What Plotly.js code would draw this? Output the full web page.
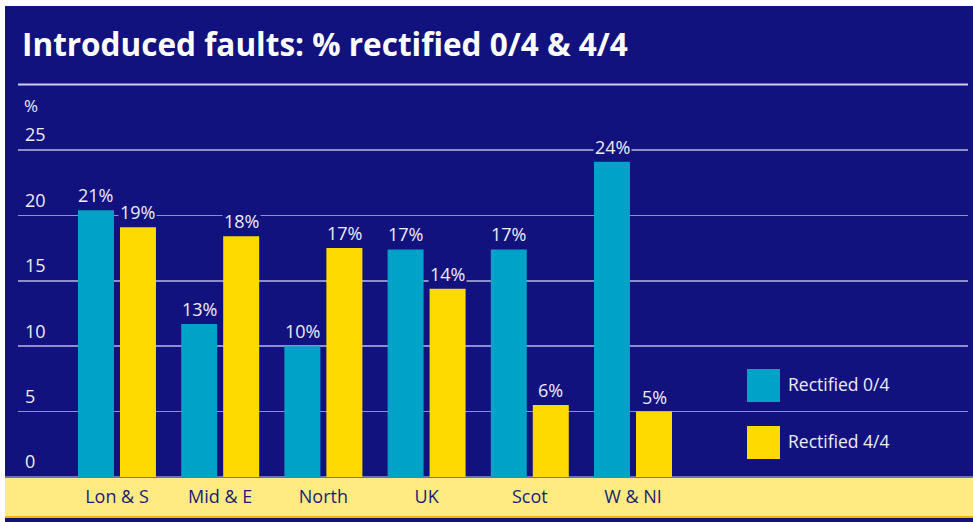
<!DOCTYPE html>
<html>
<head>
<meta charset="utf-8">
<script src="https://cdn.plot.ly/plotly-3.0.1.min.js"></script>
<style>
  html, body { margin: 0; padding: 0; background: #ffffff; }
  #chart { width: 973px; height: 522px; }
</style>
</head>
<body>
<div id="chart"></div>
<script>
// ---- data ----
var categories = ["Lon & S", "Mid & E", "North", "UK", "Scot", "W & NI"];
var seriesNames = ["Rectified 0/4", "Rectified 4/4"];
var rectified04 = [20.4, 11.7, 10.0, 17.4, 17.4, 24.1];
var rectified44 = [19.1, 18.4, 17.5, 14.4, 5.5, 5.0];
var labels04 = ["21%", "13%", "10%", "17%", "17%", "24%"];
var labels44 = ["19%", "18%", "17%", "14%", "6%", "5%"];
var yTickVals = [0, 5, 10, 15, 20, 25];
var titleText = "Introduced faults: % rectified 0/4 & 4/4";
var yUnit = "%";

// ---- styling ----
var NAVY = "#12127f";
var TEAL = "#00a2c7";
var YELLOW = "#ffda00";
var BAND = "#ffeb82";
var ORANGE = "#f2b400";
var GRID = "#8e8ecc";
var TEXT = "#ececf6";
var FONT = "Open Sans, Noto Sans, sans-serif";

var W = 973, H = 522;
var M = {l: 18, r: 5, t: 95, b: 45};
var PW = W - M.l - M.r, PH = H - M.t - M.b;
function px(x) { return (x - M.l) / PW; }
function py(y) { return (H - M.b - y) / PH; }

var traces = [
  {type: "bar", name: seriesNames[0], x: categories, y: rectified04,
   marker: {color: TEAL, line: {width: 0}}, showlegend: false, hoverinfo: "x+y"},
  {type: "bar", name: seriesNames[1], x: categories, y: rectified44,
   marker: {color: YELLOW, line: {width: 0}}, showlegend: false, hoverinfo: "x+y"}
];

var annotations = [];
categories.forEach(function (c, i) {
  annotations.push({x: c, y: rectified04[i], xref: "x", yref: "y", text: labels04[i],
    showarrow: false, yanchor: "bottom", xanchor: "center", xshift: -21, yshift: 1,
    bgcolor: NAVY, borderpad: 1, font: {family: FONT, size: 18, color: TEXT}});
  annotations.push({x: c, y: rectified44[i], xref: "x", yref: "y", text: labels44[i],
    showarrow: false, yanchor: "bottom", xanchor: "center", xshift: 21, yshift: 1,
    bgcolor: NAVY, borderpad: 1, font: {family: FONT, size: 18, color: TEXT}});
});
// unit label
annotations.push({xref: "paper", yref: "paper", x: px(22), y: py(106), text: yUnit,
  showarrow: false, xanchor: "left", yanchor: "middle",
  font: {family: FONT, size: 17, color: TEXT}});
// legend text
annotations.push({xref: "paper", yref: "paper", x: px(786), y: py(384), text: seriesNames[0],
  showarrow: false, xanchor: "left", yanchor: "middle",
  font: {family: FONT, size: 17.5, color: TEXT}});
annotations.push({xref: "paper", yref: "paper", x: px(786), y: py(441), text: seriesNames[1],
  showarrow: false, xanchor: "left", yanchor: "middle",
  font: {family: FONT, size: 17.5, color: TEXT}});

var shapes = [
  // white outer strips
  {type: "rect", xref: "paper", yref: "paper", x0: px(0), x1: px(W), y0: py(0), y1: py(6),
   fillcolor: "#ffffff", line: {width: 0}, layer: "below"},
  {type: "rect", xref: "paper", yref: "paper", x0: px(0), x1: px(5), y0: py(0), y1: py(H),
   fillcolor: "#ffffff", line: {width: 0}, layer: "below"},
  // title rule
  {type: "line", xref: "paper", yref: "paper", x0: px(18), x1: px(968), y0: py(84.5), y1: py(84.5),
   line: {color: "#d0d0ec", width: 2}},
  // bottom band
  {type: "rect", xref: "paper", yref: "paper", x0: px(5), x1: px(W), y0: py(478), y1: py(516),
   fillcolor: BAND, line: {width: 0}, layer: "below"},
  {type: "rect", xref: "paper", yref: "paper", x0: px(5), x1: px(W), y0: py(516), y1: py(518),
   fillcolor: ORANGE, line: {width: 0}, layer: "below"},
  // baseline
  {type: "line", xref: "paper", yref: "paper", x0: px(5), x1: px(W), y0: py(477), y1: py(477),
   line: {color: GRID, width: 1.5}, layer: "below"},
  // legend swatches
  {type: "rect", xref: "paper", yref: "paper", x0: px(747), x1: px(780), y0: py(402), y1: py(369),
   fillcolor: TEAL, line: {width: 0}},
  {type: "rect", xref: "paper", yref: "paper", x0: px(747), x1: px(780), y0: py(459), y1: py(426),
   fillcolor: YELLOW, line: {width: 0}}
];

var layout = {
  width: W, height: H,
  margin: M,
  paper_bgcolor: NAVY,
  plot_bgcolor: NAVY,
  title: {text: "<b>" + titleText + "</b>", xref: "container", yref: "container",
    x: 22 / W, xanchor: "left", y: 1 - 45 / H, yanchor: "middle",
    font: {family: FONT, size: 31.5, color: "#ffffff"}},
  barmode: "group",
  bargap: 0.186,
  bargroupgap: 0.143,
  showlegend: false,
  xaxis: {type: "category", range: [-0.959, 8.246], showgrid: false, zeroline: false,
    showline: false, ticks: "", tickfont: {family: FONT, size: 18, color: "#1c1c78"},
    ticklabelstandoff: 7, fixedrange: true},
  yaxis: {range: [0, PH / 13.08], tickvals: yTickVals, showgrid: true, gridcolor: GRID,
    gridwidth: 1.5, zeroline: false, showline: false, ticks: "",
    ticklabelposition: "inside", ticklabelstandoff: 4, ticklabelshift: -15,
    tickfont: {family: FONT, size: 18, color: TEXT}, fixedrange: true},
  annotations: annotations,
  shapes: shapes
};

Plotly.newPlot("chart", traces, layout, {displayModeBar: false, staticPlot: true});
</script>
</body>
</html>
